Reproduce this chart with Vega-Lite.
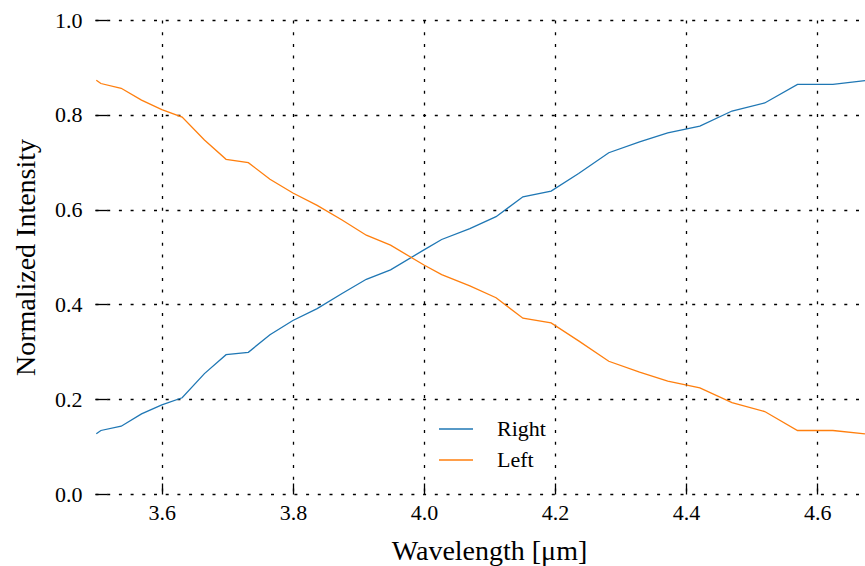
{
  "$schema": "https://vega.github.io/schema/vega-lite/v6.json",
  "width": 770,
  "height": 474,
  "autosize": {"type": "none"},
  "padding": {"left": 95, "top": 20, "right": 0, "bottom": 72},
  "background": "white",
  "config": {
    "view": {"stroke": null},
    "font": "Liberation Serif"
  },
  "data": {
    "values": [
      {"w": 3.500, "Right": 0.127, "Left": 0.873},
      {"w": 3.507, "Right": 0.134, "Left": 0.866},
      {"w": 3.538, "Right": 0.143, "Left": 0.856},
      {"w": 3.569, "Right": 0.169, "Left": 0.831},
      {"w": 3.600, "Right": 0.188, "Left": 0.811},
      {"w": 3.631, "Right": 0.203, "Left": 0.795},
      {"w": 3.665, "Right": 0.254, "Left": 0.747},
      {"w": 3.698, "Right": 0.294, "Left": 0.706},
      {"w": 3.732, "Right": 0.299, "Left": 0.699},
      {"w": 3.765, "Right": 0.336, "Left": 0.664},
      {"w": 3.800, "Right": 0.366, "Left": 0.635},
      {"w": 3.837, "Right": 0.391, "Left": 0.609},
      {"w": 3.875, "Right": 0.423, "Left": 0.578},
      {"w": 3.912, "Right": 0.453, "Left": 0.546},
      {"w": 3.949, "Right": 0.473, "Left": 0.525},
      {"w": 4.000, "Right": 0.515, "Left": 0.483},
      {"w": 4.027, "Right": 0.537, "Left": 0.463},
      {"w": 4.070, "Right": 0.560, "Left": 0.439},
      {"w": 4.110, "Right": 0.585, "Left": 0.414},
      {"w": 4.151, "Right": 0.627, "Left": 0.371},
      {"w": 4.194, "Right": 0.639, "Left": 0.361},
      {"w": 4.236, "Right": 0.676, "Left": 0.323},
      {"w": 4.282, "Right": 0.720, "Left": 0.280},
      {"w": 4.329, "Right": 0.743, "Left": 0.257},
      {"w": 4.372, "Right": 0.762, "Left": 0.238},
      {"w": 4.421, "Right": 0.776, "Left": 0.224},
      {"w": 4.470, "Right": 0.808, "Left": 0.193},
      {"w": 4.520, "Right": 0.825, "Left": 0.174},
      {"w": 4.570, "Right": 0.864, "Left": 0.134},
      {"w": 4.624, "Right": 0.864, "Left": 0.134},
      {"w": 4.673, "Right": 0.872, "Left": 0.127}
    ]
  },
  "transform": [
    {"fold": ["Right", "Left"], "as": ["series", "value"]}
  ],
  "mark": {"type": "line", "strokeWidth": 1.3, "clip": true},
  "encoding": {
    "x": {
      "field": "w",
      "type": "quantitative",
      "scale": {"domain": [3.498, 4.673], "nice": false, "zero": false},
      "axis": {
        "title": "Wavelength [μm]",
        "values": [3.6, 3.8, 4.0, 4.2, 4.4, 4.6],
        "format": ".1f",
        "domain": false,
        "grid": true,
        "gridColor": "#000000",
        "gridOpacity": 1,
        "gridWidth": 1.3,
        "gridDash": [3, 8.7],
        "tickColor": "#000000",
        "tickSize": -11,
        "tickWidth": 1.3,
        "labelFontSize": 22,
        "labelColor": "#000000",
        "labelPadding": 19,
        "labelFont": "Liberation Serif",
        "titleFont": "Liberation Serif",
        "titleFontSize": 28,
        "titleFontWeight": "normal",
        "titleColor": "#000000",
        "titleX": 394,
        "titleY": 65,
        "titleBaseline": "alphabetic",
        "titleAnchor": "middle"
      }
    },
    "y": {
      "field": "value",
      "type": "quantitative",
      "scale": {"domain": [0, 1], "nice": false},
      "axis": {
        "title": "Normalized Intensity",
        "values": [0, 0.2, 0.4, 0.6, 0.8, 1.0],
        "format": ".1f",
        "domain": false,
        "grid": true,
        "gridColor": "#000000",
        "gridOpacity": 1,
        "gridWidth": 1.3,
        "gridDash": [3, 8.7],
        "tickColor": "#000000",
        "tickSize": -12,
        "tickWidth": 1.3,
        "labelFontSize": 22,
        "labelColor": "#000000",
        "labelPadding": 25,
        "labelFont": "Liberation Serif",
        "titleFont": "Liberation Serif",
        "titleFontSize": 28,
        "titleFontWeight": "normal",
        "titleColor": "#000000",
        "titlePadding": 14
      }
    },
    "color": {
      "field": "series",
      "type": "nominal",
      "scale": {"domain": ["Right", "Left"], "range": ["#1f77b4", "#ff7f0e"]},
      "legend": {
        "title": null,
        "orient": "none",
        "legendX": 343,
        "legendY": 391,
        "padding": 0,
        "symbolType": "stroke",
        "symbolSize": 1156,
        "symbolStrokeWidth": 1.3,
        "labelFont": "Liberation Serif",
        "labelFontSize": 22,
        "labelColor": "#000000",
        "labelOffset": 23,
        "rowPadding": 2
      }
    }
  }
}
